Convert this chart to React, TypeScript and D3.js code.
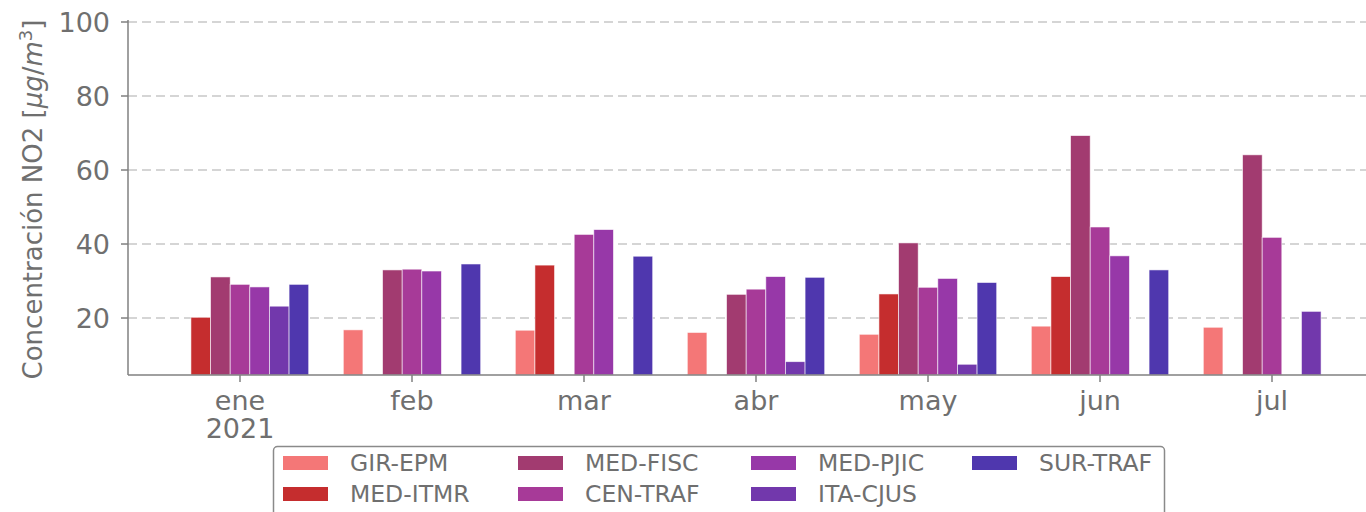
import { scaleBand, scaleLinear } from 'd3'

const width = 1366
const height = 512

const months = ['ene', 'feb', 'mar', 'abr', 'may', 'jun', 'jul']
const stations = ['GIR-EPM', 'MED-ITMR', 'MED-FISC', 'CEN-TRAF', 'MED-PJIC', 'ITA-CJUS', 'SUR-TRAF']
const colors = ['#f47777', '#c52d2e', '#a23b70', '#a73a98', '#9738a8', '#7238ac', '#4f37ae']

// NO2 monthly means, null = no data
const girEpm = [null, 16.8, 16.7, 16.1, 15.6, 17.8, 17.5]
const medItmr = [20.2, null, 34.3, null, 26.5, 31.2, null]
const medFisc = [31.1, 33.0, null, 26.4, 40.3, 69.3, 64.1]
const cenTraf = [29.1, 33.2, 42.6, 27.8, 28.3, 44.6, 41.8]
const medPjic = [28.4, 32.7, 43.9, 31.2, 30.7, 36.8, null]
const itaCjus = [23.2, null, null, 8.2, 7.5, null, 21.8]
const surTraf = [29.1, 34.6, 36.7, 31.0, 29.6, 33.0, null]
const series = [girEpm, medItmr, medFisc, cenTraf, medPjic, itaCjus, surTraf]

const yTicks = [20, 40, 60, 80, 100]

const left = 128
const right = 1366
const top = 22
const bottom = 375

const x = scaleBand().domain(months).range([154, 1358])
const groupW = 137.4
const xs = scaleBand().domain(stations).range([-groupW / 2, groupW / 2])
const y = scaleLinear().domain([4.6, 100]).range([bottom, top])

const font = 'DejaVu Sans, sans-serif'
const textColor = '#6f6f6f'
const axisColor = '#808080'

const App = () => {
  const center = (m) => x(m) + x.bandwidth() / 2
  return (
    <svg width={width} height={height}
      style={{ position: 'absolute', left: 0, top: 0, background: '#fff' }}
      fontFamily={font}>
      {/* grid */}
      {yTicks.map(t => (
        <line key={'g' + t} x1={left} x2={right} y1={y(t)} y2={y(t)}
          stroke='#c8c8c8' strokeWidth={1.3} strokeDasharray='9,5' />
      ))}
      {/* bars */}
      {series.map((vals, si) => vals.map((v, mi) => v == null ? null : (
        <rect key={si + '-' + mi}
          x={center(months[mi]) + xs(stations[si])}
          y={y(v)}
          width={xs.bandwidth()}
          height={bottom - y(v)}
          fill={colors[si]}
          stroke='#fff' strokeOpacity={0.7} strokeWidth={0.8} />
      )))}
      {/* axes */}
      <line x1={left} x2={left} y1={top - 2} y2={bottom} stroke={axisColor} strokeWidth={1.5} />
      <line x1={left} x2={right} y1={bottom} y2={bottom} stroke={axisColor} strokeWidth={1.5} />
      {yTicks.map(t => (
        <g key={'y' + t}>
          <line x1={left - 7} x2={left} y1={y(t)} y2={y(t)} stroke={axisColor} strokeWidth={1.5} />
          <text x={left - 18} y={y(t)} dy='0.36em' textAnchor='end' fontSize={27} fill={textColor}>{t}</text>
        </g>
      ))}
      {months.map((m, i) => (
        <g key={m}>
          <line x1={center(m)} x2={center(m)} y1={bottom} y2={bottom + 7} stroke={axisColor} strokeWidth={1.5} />
          <text x={center(m)} y={410} textAnchor='middle' fontSize={27} fill={textColor}>{m}</text>
          {i === 0 && <text x={center(m)} y={438} textAnchor='middle' fontSize={27} fill={textColor}>2021</text>}
        </g>
      ))}
      <text transform={`translate(42,${(top + bottom) / 2 + 1}) rotate(-90)`} textAnchor='middle'
        fontSize={26} fill={textColor}>
        Concentración NO2 [<tspan fontStyle='italic'>μg</tspan>/<tspan fontStyle='italic'>m</tspan><tspan fontSize={18} dy={-10}>3</tspan><tspan dy={10}>]</tspan>
      </text>
      {/* legend */}
      <rect x={273.5} y={446.5} width={891} height={80} rx={4} fill='#fff' stroke='#8a8a8a' strokeWidth={1.5} />
      {stations.map((s, i) => {
        const col = Math.floor(i / 2)
        const row = i % 2
        const lx = [283, 518, 751, 972][col]
        const ly = 456 + row * 31
        return (
          <g key={s}>
            <rect x={lx} y={ly} width={45} height={14} fill={colors[i]} />
            <text x={lx + 67} y={ly + 7} dy='0.36em' fontSize={23.5} fill={textColor}>{s}</text>
          </g>
        )
      })}
    </svg>
  )
}

export default App
